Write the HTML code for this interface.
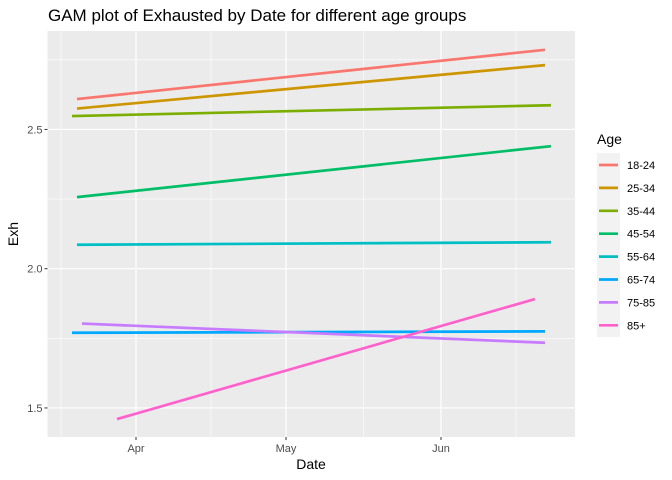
<!DOCTYPE html>
<html><head><meta charset="utf-8"><style>
body{margin:0;background:#fff}
svg{display:block;font-family:"Liberation Sans",sans-serif}
</style></head><body>
<svg id="chart" width="672" height="480" xmlns="http://www.w3.org/2000/svg"></svg>
<script>
// data: days relative to Apr 1
const groups = ["18-24","25-34","35-44","45-54","55-64","65-74","75-85","85+"];
const startDays = [-11.8,-11.8,-12.8,-11.8,-11.8,-12.8,-10.8,-3.8];
const endDays = [81.8,81.8,83,83,83,81.8,81.8,79.8];
const startValues = [2.609,2.575,2.548,2.257,2.086,1.770,1.803,1.460];
const endValues = [2.786,2.731,2.587,2.440,2.095,1.775,1.734,1.891];
const yTicks = [1.5,2.0,2.5];
const yTickLabels = ["1.5","2.0","2.5"];
const xTicks = [0,30,61];
const xTickLabels = ["Apr","May","Jun"];
const xMinor = [-15,15,45.5,76];
const yMinor = [1.75,2.25,2.75];
const colors = ["#F8766D","#CD9600","#7CAE00","#00BE67","#00BFC4","#00A9FF","#C77CFF","#FF61CC"];

const NS="http://www.w3.org/2000/svg";
const svg=document.getElementById('chart');
const L=47.5,R=575,T=31,B=437;
const xs=d=>136+d*5.0;
const ys=v=>268.7-(v-2)*278.5;
function mk(tag,attrs,parent){const e=document.createElementNS(NS,tag);for(const k in attrs)e.setAttribute(k,attrs[k]);(parent||svg).appendChild(e);return e;}

const title=mk('text',{x:48,y:21,'font-size':17,fill:'#000'});


title.textContent='GAM plot of Exhausted by Date for different age groups';

const panel=mk('rect',{x:L,y:T,width:R-L,height:B-T,fill:'#EBEBEB'});



yMinor.forEach(v=>{const g=mk('line',{x1:L,x2:R,y1:ys(v),y2:ys(v),stroke:'#fff','stroke-width':0.6});

});
xMinor.forEach(d=>{const g=mk('line',{x1:xs(d),x2:xs(d),y1:T,y2:B,stroke:'#fff','stroke-width':0.6});

});
yTicks.forEach((v,i)=>{
const g=mk('line',{x1:L,x2:R,y1:ys(v),y2:ys(v),stroke:'#fff','stroke-width':1.2});


const t=mk('line',{x1:L-3,x2:L,y1:ys(v),y2:ys(v),stroke:'#333','stroke-width':1});


const tx=mk('text',{x:L-5,y:ys(v)+4,'font-size':11,fill:'#4D4D4D','text-anchor':'end'});


tx.textContent=yTickLabels[i];});
xTicks.forEach((d,i)=>{
const g=mk('line',{x1:xs(d),x2:xs(d),y1:T,y2:B,stroke:'#fff','stroke-width':1.2});


const t=mk('line',{x1:xs(d),x2:xs(d),y1:B,y2:B+3,stroke:'#333','stroke-width':1});


const tx=mk('text',{x:xs(d),y:B+15,'font-size':11,fill:'#4D4D4D','text-anchor':'middle'});


tx.textContent=xTickLabels[i];});

groups.forEach((g,i)=>{
const l=mk('line',{x1:xs(startDays[i]),y1:ys(startValues[i]),x2:xs(endDays[i]),y2:ys(endValues[i]),stroke:colors[i],'stroke-width':2.7});

});

const xl=mk('text',{x:311,y:469,'font-size':14,fill:'#000','text-anchor':'middle'});


xl.textContent='Date';
const yl=mk('text',{x:0,y:0,'font-size':14,fill:'#000','text-anchor':'middle',transform:'translate(18,234) rotate(-90)'});


yl.textContent='Exh';

const lt=mk('text',{x:597,y:144,'font-size':14,fill:'#000'});


lt.textContent='Age';
const lb=mk('rect',{x:597,y:153,width:23,height:184,fill:'#F2F2F2'});


groups.forEach((g,i)=>{
const y=165+i*22.9;
const k=mk('line',{x1:599,x2:618,y1:y,y2:y,stroke:colors[i],'stroke-width':2.7});


const t=mk('text',{x:627,y:y+4,'font-size':11,fill:'#000'});


t.textContent=g;});
</script>
</body></html>
